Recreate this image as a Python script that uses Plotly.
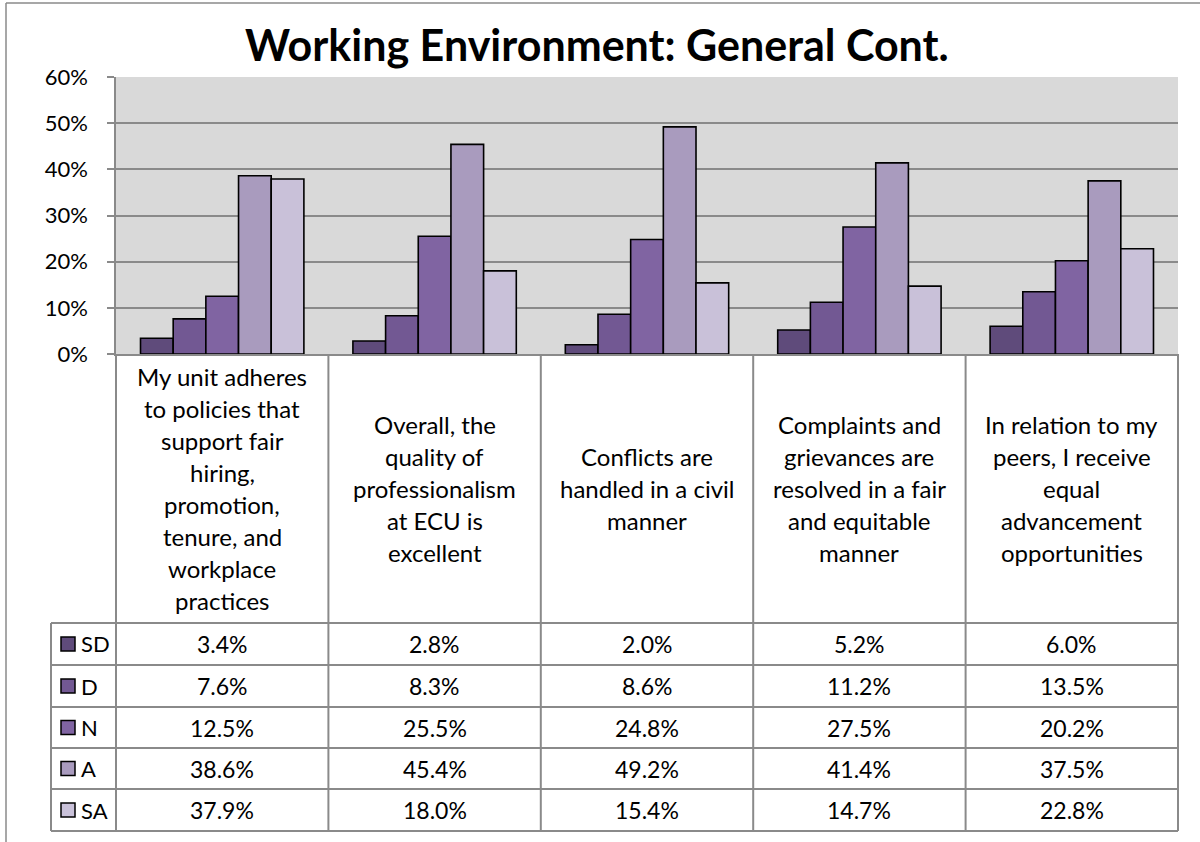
import plotly.graph_objects as go

# ---------------- data ----------------
categories = [
    "My unit adheres to policies that support fair hiring, promotion, tenure, and workplace practices",
    "Overall, the quality of professionalism at ECU is excellent",
    "Conflicts are handled in a civil manner",
    "Complaints and grievances are resolved in a fair and equitable manner",
    "In relation to my peers, I receive equal advancement opportunities",
]
category_lines = [
    ["My unit adheres", "to policies that", "support fair", "hiring,", "promotion,", "tenure, and", "workplace", "practices"],
    ["Overall, the", "quality of", "professionalism", "at ECU is", "excellent"],
    ["Conflicts are", "handled in a civil", "manner"],
    ["Complaints and", "grievances are", "resolved in a fair", "and equitable", "manner"],
    ["In relation to my", "peers, I receive", "equal", "advancement", "opportunities"],
]
series_names = ["SD", "D", "N", "A", "SA"]
SD = [3.4, 2.8, 2.0, 5.2, 6.0]
D = [7.6, 8.3, 8.6, 11.2, 13.5]
N = [12.5, 25.5, 24.8, 27.5, 20.2]
A = [38.6, 45.4, 49.2, 41.4, 37.5]
SA = [37.9, 18.0, 15.4, 14.7, 22.8]
series_values = [SD, D, N, A, SA]
colors = ["#5F4B7B", "#725893", "#8064A2", "#A99BBE", "#C9C1D9"]
y_ticks = [0, 10, 20, 30, 40, 50, 60]
title = "Working Environment: General Cont."

# ---------------- layout geometry (pixels) ----------------
W, H = 1200, 842
PL, PR, PT, PB = 116, 1178, 77, 354   # plot area
FONT = "Lato"
GRID = "#8A8A8A"


def px(x):
    return (x - PL) / (PR - PL)


def py(y):
    return (PB - y) / (PB - PT)


fig = go.Figure()
xs = list(range(len(categories)))
for name, vals, col in zip(series_names, series_values, colors):
    fig.add_trace(go.Bar(
        x=xs, y=[v / 100 for v in vals], name=name,
        marker=dict(color=col, line=dict(color="black", width=1.6)),
        showlegend=False,
    ))

shapes = []
annotations = []

# outer chart frame
shapes.append(dict(type="line", xref="paper", yref="paper", x0=px(6), x1=px(1200), y0=py(3), y1=py(3),
                   line=dict(color=GRID, width=1.5)))
shapes.append(dict(type="line", xref="paper", yref="paper", x0=px(6), x1=px(6), y0=py(3), y1=py(842),
                   line=dict(color=GRID, width=1.5)))

# data table geometry
col_w = (PR - PL) / len(categories)
col_x = [PL + i * col_w for i in range(len(categories) + 1)]
row_y = [623, 665, 707, 748, 789, 831]
LEG_X0 = 51

for x in col_x:
    shapes.append(dict(type="line", xref="paper", yref="paper", x0=px(x), x1=px(x), y0=py(PB), y1=py(row_y[-1]),
                       line=dict(color=GRID, width=2)))
shapes.append(dict(type="line", xref="paper", yref="paper", x0=px(LEG_X0), x1=px(LEG_X0), y0=py(row_y[0]),
                   y1=py(row_y[-1]), line=dict(color=GRID, width=2)))
for y in row_y:
    shapes.append(dict(type="line", xref="paper", yref="paper", x0=px(LEG_X0), x1=px(PR), y0=py(y), y1=py(y),
                       line=dict(color=GRID, width=2)))

# category labels
LINE_H = 32
label_center = (PB + row_y[0]) / 2
for i, lines in enumerate(category_lines):
    cx = (col_x[i] + col_x[i + 1]) / 2
    n = len(lines)
    for j, t in enumerate(lines):
        yc = label_center + (j - (n - 1) / 2) * LINE_H
        annotations.append(dict(text=t, xref="paper", yref="paper", x=px(cx), y=py(yc),
                                xanchor="center", yanchor="middle", showarrow=False,
                                font=dict(family=FONT, size=24, color="black")))

# table rows
for r, (name, vals, col) in enumerate(zip(series_names, series_values, colors)):
    yc = (row_y[r] + row_y[r + 1]) / 2
    shapes.append(dict(type="rect", xref="paper", yref="paper", x0=px(61), x1=px(75), y0=py(yc - 7),
                       y1=py(yc + 7), fillcolor=col, line=dict(color="black", width=1.5)))
    annotations.append(dict(text=name, xref="paper", yref="paper", x=px(79), y=py(yc),
                            xanchor="left", yanchor="middle", showarrow=False,
                            font=dict(family=FONT, size=22, color="black")))
    for i, v in enumerate(vals):
        cx = (col_x[i] + col_x[i + 1]) / 2
        annotations.append(dict(text=f"{v:.1f}%", xref="paper", yref="paper", x=px(cx), y=py(yc),
                                xanchor="center", yanchor="middle", showarrow=False,
                                font=dict(family=FONT, size=23, color="black")))

# title
annotations.append(dict(text=title, xref="paper", yref="paper", x=px(597), y=py(45),
                        xanchor="center", yanchor="middle", showarrow=False,
                        font=dict(family=FONT, size=43, color="black", weight="bold")))

fig.update_layout(
    width=W, height=H,
    margin=dict(l=PL, r=W - PR, t=PT, b=H - PB, pad=0),
    paper_bgcolor="white", plot_bgcolor="#D9D9D9",
    barmode="group", bargap=0.2308, bargroupgap=0,
    shapes=shapes, annotations=annotations,
    font=dict(family=FONT, color="black"),
)
fig.update_xaxes(range=[-0.5, len(categories) - 0.5], showticklabels=False, showgrid=False,
                 showline=True, linecolor=GRID, linewidth=2, ticks="", zeroline=False, fixedrange=True)
fig.update_yaxes(range=[0, 0.6], tickvals=[t / 100 for t in y_ticks], tickformat=".0%",
                 showgrid=True, gridcolor=GRID, gridwidth=1.5, zeroline=False,
                 showline=True, linecolor=GRID, linewidth=1.5,
                 ticks="outside", ticklen=7, tickcolor=GRID, tickwidth=1.5,
                 ticklabelstandoff=15, tickfont=dict(family=FONT, size=22, color="black"))

fig.write_html("out.html", config={"displayModeBar": False},
               post_script="document.body.style.margin='0px';document.body.style.overflow='hidden';")
